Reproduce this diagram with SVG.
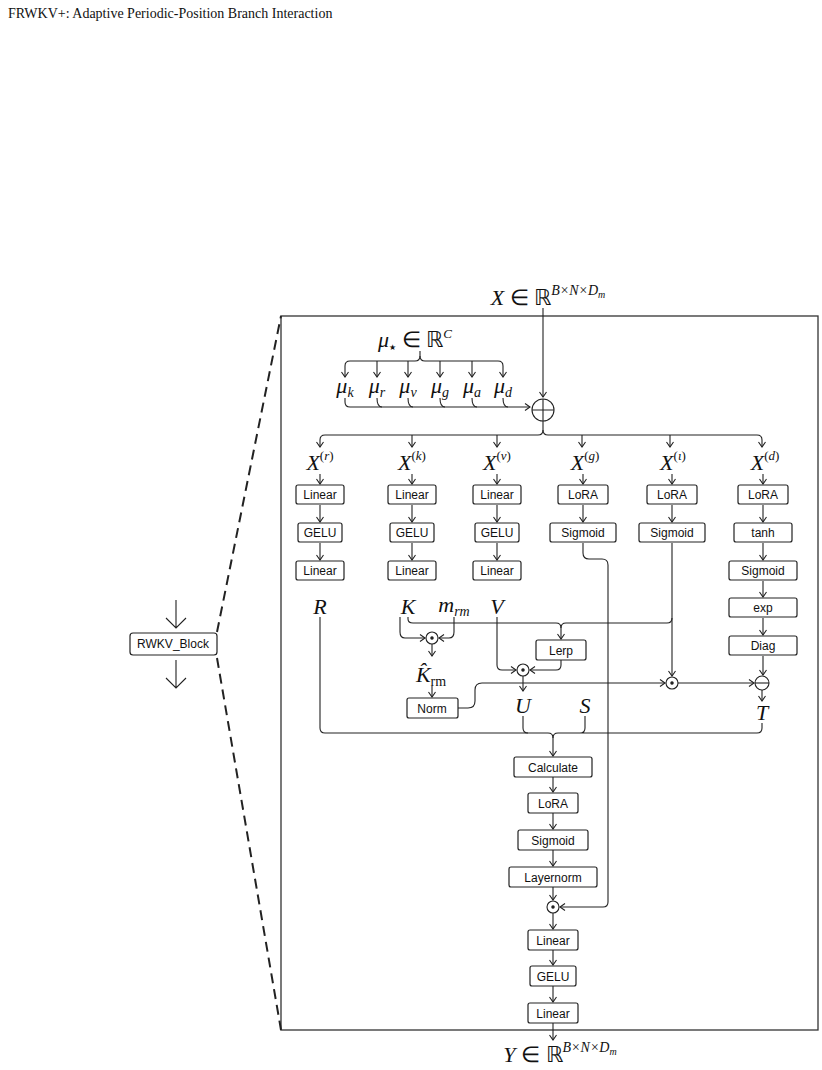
<svg xmlns="http://www.w3.org/2000/svg" width="822" height="1070" viewBox="0 0 822 1070">
<defs>
<marker id="a" markerWidth="8" markerHeight="8" refX="6" refY="4" orient="auto" markerUnits="userSpaceOnUse"><path d="M1,0.5 L6,4 L1,7.5" fill="none" stroke="#222" stroke-width="1.1"/></marker>
<style>
.b{fill:#fff;stroke:#222;stroke-width:1.2}
.t{font-family:"Liberation Sans",Arial,sans-serif;font-size:12px;fill:#111;text-anchor:middle}
.m{font-family:"Liberation Serif","Times New Roman",serif;font-style:italic;font-size:22px;fill:#111;text-anchor:middle}
.n{font-family:"Liberation Serif","Times New Roman",serif;fill:#111}
.l{fill:none;stroke:#222;stroke-width:1.1}
.ar{fill:none;stroke:#222;stroke-width:1.1;marker-end:url(#a)}
</style>
</defs>
<rect width="822" height="1070" fill="#fff"/>
<text x="8" y="18" class="n" font-size="14">FRWKV+: Adaptive Periodic-Position Branch Interaction</text>

<g id="frame">
<rect x="281" y="316" width="537" height="714" fill="none" stroke="#333" stroke-width="1.3"/>
<line x1="217" y1="632" x2="281" y2="316" stroke="#222" stroke-width="2" stroke-dasharray="10,6"/>
<line x1="217" y1="658" x2="281" y2="1030" stroke="#222" stroke-width="2" stroke-dasharray="10,6"/>
</g>
<g id="rwkv">
<rect x="130" y="633" width="87" height="22" rx="3" class="b"/>
<text x="173" y="648" class="t">RWKV_Block</text>
<path d="M176,600 V628 M166,618 L176,628 L186,618" class="l" stroke-width="2"/>
<path d="M176,660 V688 M166,678 L176,688 L186,678" class="l" stroke-width="2"/>
</g>

<g id="labels">
<text x="548" y="305" class="m" font-size="24">X <tspan font-style="normal">∈ ℝ</tspan><tspan font-size="14" dy="-10">B×N×D</tspan><tspan font-size="10" dy="3">m</tspan></text>
<text x="415" y="347" class="m">μ<tspan font-size="8" dy="3" font-style="normal" font-family="DejaVu Sans">★</tspan><tspan font-style="normal" dy="-3"> ∈ ℝ</tspan><tspan font-size="13" dy="-9">C</tspan></text>
<text x="345" y="393" class="m">μ<tspan font-size="14" dy="4">k</tspan></text>
<text x="377" y="393" class="m">μ<tspan font-size="14" dy="4">r</tspan></text>
<text x="408" y="393" class="m">μ<tspan font-size="14" dy="4">v</tspan></text>
<text x="440" y="393" class="m">μ<tspan font-size="14" dy="4">g</tspan></text>
<text x="472" y="393" class="m">μ<tspan font-size="14" dy="4">a</tspan></text>
<text x="503" y="393" class="m">μ<tspan font-size="14" dy="4">d</tspan></text>
<text x="320" y="470" class="m">X<tspan font-size="13" dy="-10" font-style="normal">(</tspan><tspan font-size="13">r</tspan><tspan font-size="13" font-style="normal">)</tspan></text>
<text x="412" y="470" class="m">X<tspan font-size="13" dy="-10" font-style="normal">(</tspan><tspan font-size="13">k</tspan><tspan font-size="13" font-style="normal">)</tspan></text>
<text x="497" y="470" class="m">X<tspan font-size="13" dy="-10" font-style="normal">(</tspan><tspan font-size="13">v</tspan><tspan font-size="13" font-style="normal">)</tspan></text>
<text x="585" y="470" class="m">X<tspan font-size="13" dy="-10" font-style="normal">(</tspan><tspan font-size="13">g</tspan><tspan font-size="13" font-style="normal">)</tspan></text>
<text x="673" y="470" class="m">X<tspan font-size="13" dy="-10" font-style="normal">(</tspan><tspan font-size="13">ι</tspan><tspan font-size="13" font-style="normal">)</tspan></text>
<text x="765" y="470" class="m">X<tspan font-size="13" dy="-10" font-style="normal">(</tspan><tspan font-size="13">d</tspan><tspan font-size="13" font-style="normal">)</tspan></text>
<text x="320" y="614" class="m">R</text>
<text x="408" y="614" class="m">K</text>
<text x="454" y="612" class="m">m<tspan font-size="14" dy="4">rm</tspan></text>
<text x="497" y="614" class="m">V</text>
<text x="431" y="682" class="m">K̂<tspan font-size="14" dy="4" font-style="normal">rm</tspan></text>
<text x="523" y="713" class="m">U</text>
<text x="585" y="713" class="m">S</text>
<text x="762" y="720" class="m">T</text>
<text x="560" y="1062" class="m" font-size="24">Y <tspan font-style="normal">∈ ℝ</tspan><tspan font-size="14" dy="-10">B×N×D</tspan><tspan font-size="10" dy="3">m</tspan></text>
</g>

<g id="ops" fill="#fff" stroke="#222" stroke-width="1.1">
<circle cx="543" cy="410" r="11"/><path d="M532,410 H554 M543,399 V421"/>
<circle cx="432" cy="638" r="6"/><circle cx="432" cy="638" r="1.2" fill="#222"/>
<circle cx="523" cy="670" r="6"/><circle cx="523" cy="670" r="1.2" fill="#222"/>
<circle cx="672" cy="683" r="6"/><circle cx="672" cy="683" r="1.2" fill="#222"/>
<circle cx="762" cy="683" r="7"/><path d="M755,683 H769"/>
<circle cx="553" cy="907" r="6"/><circle cx="553" cy="907" r="1.2" fill="#222"/>
</g>

<g id="boxes">
<rect x="296" y="485" width="48" height="19" rx="2" class="b"/><text x="320" y="499" class="t">Linear</text>
<rect x="298" y="523" width="44" height="19" rx="2" class="b"/><text x="320" y="537" class="t">GELU</text>
<rect x="296" y="561" width="48" height="19" rx="2" class="b"/><text x="320" y="575" class="t">Linear</text>
<rect x="388" y="485" width="48" height="19" rx="2" class="b"/><text x="412" y="499" class="t">Linear</text>
<rect x="390" y="523" width="44" height="19" rx="2" class="b"/><text x="412" y="537" class="t">GELU</text>
<rect x="388" y="561" width="48" height="19" rx="2" class="b"/><text x="412" y="575" class="t">Linear</text>
<rect x="473" y="485" width="48" height="19" rx="2" class="b"/><text x="497" y="499" class="t">Linear</text>
<rect x="475" y="523" width="44" height="19" rx="2" class="b"/><text x="497" y="537" class="t">GELU</text>
<rect x="473" y="561" width="48" height="19" rx="2" class="b"/><text x="497" y="575" class="t">Linear</text>
<rect x="558" y="485" width="50" height="19" rx="2" class="b"/><text x="583" y="499" class="t">LoRA</text>
<rect x="550" y="523" width="66" height="19" rx="2" class="b"/><text x="583" y="537" class="t">Sigmoid</text>
<rect x="647" y="485" width="50" height="19" rx="2" class="b"/><text x="672" y="499" class="t">LoRA</text>
<rect x="639" y="523" width="66" height="19" rx="2" class="b"/><text x="672" y="537" class="t">Sigmoid</text>
<rect x="738" y="485" width="50" height="19" rx="2" class="b"/><text x="763" y="499" class="t">LoRA</text>
<rect x="734" y="523" width="58" height="19" rx="2" class="b"/><text x="763" y="537" class="t">tanh</text>
<rect x="729" y="561" width="68" height="19" rx="2" class="b"/><text x="763" y="575" class="t">Sigmoid</text>
<rect x="729" y="598" width="68" height="19" rx="2" class="b"/><text x="763" y="612" class="t">exp</text>
<rect x="729" y="636" width="68" height="19" rx="2" class="b"/><text x="763" y="650" class="t">Diag</text>
<rect x="536" y="640" width="50" height="20" rx="2" class="b"/><text x="561" y="655" class="t">Lerp</text>
<rect x="407" y="698" width="51" height="20" rx="2" class="b"/><text x="432" y="713" class="t">Norm</text>
<rect x="514" y="757" width="78" height="20" rx="2" class="b"/><text x="553" y="772" class="t">Calculate</text>
<rect x="528" y="793" width="50" height="20" rx="2" class="b"/><text x="553" y="808" class="t">LoRA</text>
<rect x="518" y="830" width="70" height="20" rx="2" class="b"/><text x="553" y="845" class="t">Sigmoid</text>
<rect x="509" y="867" width="88" height="20" rx="2" class="b"/><text x="553" y="882" class="t">Layernorm</text>
<rect x="528" y="930" width="50" height="20" rx="2" class="b"/><text x="553" y="945" class="t">Linear</text>
<rect x="530" y="966" width="46" height="20" rx="2" class="b"/><text x="553" y="981" class="t">GELU</text>
<rect x="528" y="1003" width="50" height="20" rx="2" class="b"/><text x="553" y="1018" class="t">Linear</text>
</g>

<g id="connectors">
<path d="M543,308 V397" class="ar"/>
<path d="M420,351 V356 Q420,361 415,361 H350 Q345,361 345,366 V377" class="ar"/>
<path d="M420,356 Q420,361 425,361 H498 Q503,361 503,366 V377" class="ar"/>
<path d="M377,361 V377" class="ar"/><path d="M408,361 V377" class="ar"/><path d="M440,361 V377" class="ar"/><path d="M472,361 V377" class="ar"/>
<path d="M345,398 V402 Q345,407 350,407 H530" class="ar"/>
<path d="M377,398 Q377,407 382,407 M408,398 Q408,407 413,407 M440,398 Q440,407 445,407 M472,398 Q472,407 477,407 M503,398 Q503,407 508,407" class="l"/>
<path d="M543,421 V430 Q543,435 538,435 H325 Q320,435 320,440 V447" class="ar"/>
<path d="M543,430 Q543,435 548,435 H757 Q762,435 762,440 V447" class="ar"/>
<path d="M412,435 V447" class="ar"/><path d="M497,435 V447" class="ar"/><path d="M582,435 V447" class="ar"/><path d="M670,435 V447" class="ar"/>
<path d="M320,474 V484" class="ar"/><path d="M320,505 V522" class="ar"/><path d="M320,543 V560" class="ar"/>
<path d="M412,474 V484" class="ar"/><path d="M412,505 V522" class="ar"/><path d="M412,543 V560" class="ar"/>
<path d="M497,474 V484" class="ar"/><path d="M497,505 V522" class="ar"/><path d="M497,543 V560" class="ar"/>
<path d="M583,474 V484" class="ar"/><path d="M583,505 V522" class="ar"/>
<path d="M672,474 V484" class="ar"/><path d="M672,505 V522" class="ar"/>
<path d="M763,474 V484" class="ar"/><path d="M763,505 V522" class="ar"/><path d="M763,543 V560" class="ar"/><path d="M763,581 V597" class="ar"/><path d="M763,618 V635" class="ar"/><path d="M763,656 V675" class="ar"/>
<path d="M408,617 V619 Q408,623 413,623 H556 Q561,623 561,628 V639" class="ar"/>
<path d="M672,543 V618 Q672,623 667,623 H566 Q561,623 561,628" class="l"/>
<path d="M672,618 V676" class="ar"/>
<path d="M400,617 V632 Q400,638 405,638 H425" class="ar"/>
<path d="M454,617 V632 Q454,638 449,638 H439" class="ar"/>
<path d="M432,644 V656" class="ar"/>
<path d="M432,686 V697" class="ar"/>
<path d="M497,617 V665 Q497,670 502,670 H516" class="ar"/>
<path d="M561,660 V665 Q561,670 556,670 H530" class="ar"/>
<path d="M523,676 V691" class="ar"/>
<path d="M458,708 H468 Q475,708 475,701 V690 Q475,683 482,683 H665" class="ar"/>
<path d="M678,683 H754" class="ar"/>
<path d="M762,690 V701" class="ar"/>
<path d="M320,617 V728 Q320,733 325,733 H548 Q553,733 553,738 V756" class="ar"/>
<path d="M523,716 V728 Q523,733 528,733 M585,716 V728 Q585,733 580,733 M762,723 V728 Q762,733 757,733 H558 Q553,733 553,738" class="l"/>
<path d="M553,777 V792" class="ar"/><path d="M553,813 V829" class="ar"/><path d="M553,850 V866" class="ar"/><path d="M553,887 V900" class="ar"/><path d="M553,913 V929" class="ar"/><path d="M553,950 V965" class="ar"/><path d="M553,986 V1002" class="ar"/><path d="M553,1023 V1040" class="ar"/>
<path d="M583,543 V553 Q583,559 589,559 H602 Q608,559 608,565 V902 Q608,907 603,907 H560" class="ar"/>
</g>
</svg>
